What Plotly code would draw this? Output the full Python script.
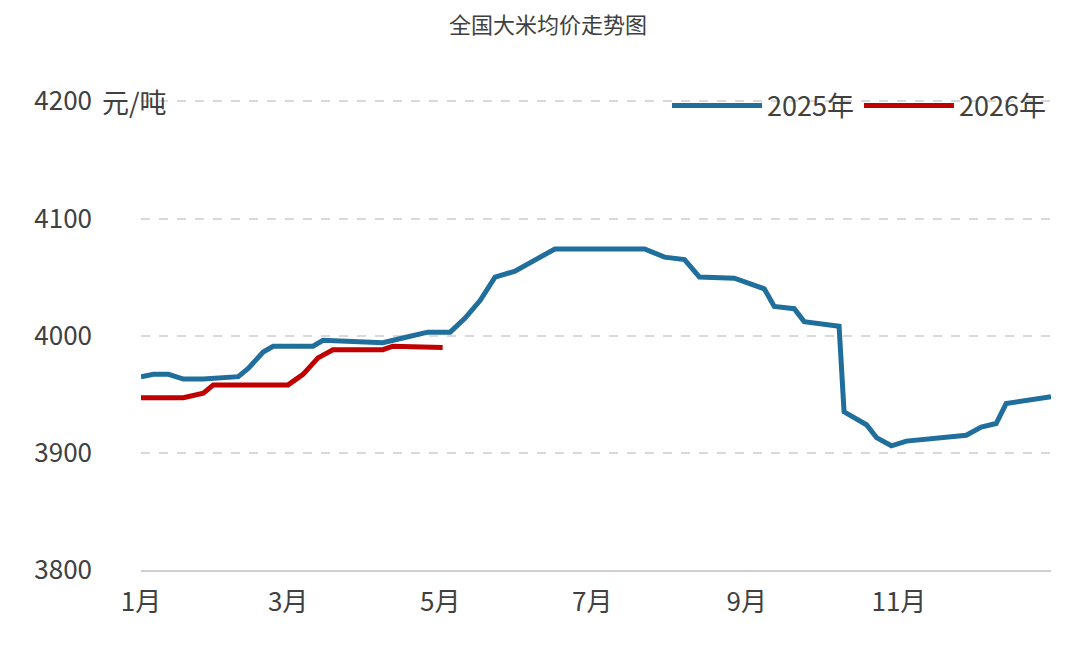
import plotly.graph_objects as go
import pandas as pd

days_2025 = [0,5,11,17,25,39,43,49,53,69,73,81,97,105,115,124,130,136,142,150,158,166,202,210,218,224,238,250,254,262,266,280,282,291,295,301,307,319,331,337,343,347,355,365]
vals_2025 = [3965,3967,3967,3963,3963,3965,3972,3986,3991,3991,3996,3995,3994,3998,4003,4003,4015,4030,4050,4055,4064,4074,4074,4067,4065,4050,4049,4040,4025,4023,4012,4008,3935,3924,3913,3906,3910,3913,3915,3922,3925,3942,3945,3948]
days_2026 = [0,17,25,29,59,65,71,77,97,101,121]
vals_2026 = [3947,3947,3951,3958,3958,3967,3981,3988,3988,3991,3990]
tick_months = [1,3,5,7,9,11]
tick_labels = ["1月","3月","5月","7月","9月","11月"]

base = pd.Timestamp("2025-01-01")
x25 = [base + pd.Timedelta(days=d) for d in days_2025]
x26 = [base + pd.Timedelta(days=d) for d in days_2026]
font = "Noto Sans CJK SC"

fig = go.Figure()
fig.add_trace(go.Scatter(x=x25, y=vals_2025, mode="lines", name="2025年",
                         line=dict(color="#1f6e9c", width=5)))
fig.add_trace(go.Scatter(x=x26, y=vals_2026, mode="lines", name="2026年",
                         line=dict(color="#c00000", width=5)))
fig.update_layout(
    width=1080, height=658, plot_bgcolor="white", paper_bgcolor="white",
    margin=dict(l=133, r=37, t=91, b=96),
    font=dict(family=font, color="#404040"),
    title=dict(text="全国大米均价走势图", x=0.5, xanchor="center", y=0.985, yanchor="top",
               font=dict(size=22, color="#404040")),
    legend=dict(orientation="h", x=1.0, xanchor="right", y=0.985, yanchor="middle",
                font=dict(size=27, color="#404040"), bgcolor="rgba(0,0,0,0)",
                itemwidth=90),
    showlegend=True,
)
fig.update_xaxes(range=[base, base + pd.Timedelta(days=365)],
                 tickvals=[pd.Timestamp(2025, m, 1) for m in tick_months],
                 ticktext=tick_labels, showgrid=False, showline=True,
                 linecolor="#d0d0d0", linewidth=2, ticks="", ticklabelstandoff=8,
                 tickfont=dict(size=26, color="#404040"))
fig.update_yaxes(range=[3800, 4202], tickvals=[3800, 3900, 4000, 4100, 4200],
                 showgrid=True, gridcolor="#d9d9d9",
                 griddash="dash", gridwidth=2, zeroline=False, ticks="",
                 ticklabelstandoff=48,
                 tickfont=dict(size=26, color="#404040"))
fig.add_annotation(text="元/吨", xref="paper", yref="y", x=-0.045, y=4200,
                   xanchor="left", yanchor="middle", showarrow=False,
                   font=dict(size=27, color="#404040"))
fig.write_html("out.html")
